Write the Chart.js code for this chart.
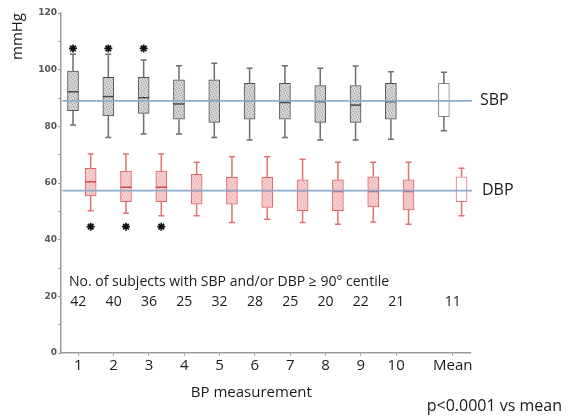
<!DOCTYPE html>
<html>
<head>
<meta charset="utf-8">
<script src="https://cdn.jsdelivr.net/npm/chart.js@4.4.1/dist/chart.umd.min.js"></script>
<style>
  html, body { margin: 0; padding: 0; background: #ffffff; }
  #wrap { width: 568px; height: 417px; position: relative; }
</style>
</head>
<body>
<div id="wrap"><canvas id="c" width="568" height="417"></canvas></div>
<script>
// ---------- data ----------
const categories = ['1','2','3','4','5','6','7','8','9','10','Mean'];

const sbpMin    = [80.5, 76.1, 77.3, 77.3, 76.1, 75.2, 76.1, 75.2, 75.2, 75.4, 78.4];
const sbpQ1     = [85.5, 83.7, 84.6, 82.5, 81.4, 82.5, 82.5, 81.4, 81.4, 82.5, 83.4];
const sbpMedian = [92.2, 90.5, 90.1, 87.9, 89.1, 89.0, 88.4, 88.7, 87.5, 88.7, null];
const sbpQ3     = [99.5, 97.3, 97.3, 96.4, 96.4, 95.2, 95.2, 94.4, 94.4, 95.2, 95.2];
const sbpMax    = [105.4, 105.4, 103.4, 101.4, 102.3, 100.5, 101.4, 100.5, 101.3, 99.3, 99.1];

const dbpMin    = [50.2, 49.3, 48.4, 48.4, 46.1, 47.2, 46.1, 45.4, 46.2, 45.4, 48.4];
const dbpQ1     = [55.4, 53.4, 53.4, 52.5, 52.5, 51.4, 50.2, 50.2, 51.6, 50.5, 53.4];
const dbpMedian = [60.4, 58.5, 58.5, 57.3, 57.3, 57.3, 57.3, 57.0, 57.0, 57.0, null];
const dbpQ3     = [65.2, 64.2, 64.2, 63.1, 62.0, 62.0, 61.1, 61.1, 62.2, 61.1, 62.2];
const dbpMax    = [70.2, 70.2, 70.2, 67.3, 69.3, 69.3, 68.4, 67.3, 67.3, 67.3, 65.2];

const sbpReference = 89.0;   // SBP mean line
const dbpReference = 57.3;   // DBP mean line

const significantIdx = [0, 1, 2];   // marked with * (p<0.0001 vs mean)
const sbpStarLevel = 107.5;
const dbpStarLevel = 44.6;

const subjectCounts = [42, 40, 36, 25, 32, 28, 25, 20, 22, 21, 11];
const countsTitle = 'No. of subjects with SBP and/or DBP \u2265 90\u00b0 centile';

const yTicks = { min: 0, max: 120, step: 10, labelEvery: 20 };

// ---------- helpers ----------
const MEAN_IDX = categories.length - 1;
function sbpX(i) { return i === MEAN_IDX ? i + 1.5 : i + 1; }
function dbpX(i) { return sbpX(i) + 0.5; }
function labelX(i) { return i === MEAN_IDX ? sbpX(i) + 0.25 : sbpX(i) + 0.15; }

function makePattern(bg, dot) {
  const n = 5;
  const c = document.createElement('canvas');
  c.width = n; c.height = n;
  const g = c.getContext('2d');
  g.fillStyle = bg; g.fillRect(0, 0, n, n);
  g.fillStyle = dot;
  [[0,0],[3,1],[1,2],[4,3],[2,4]].forEach(p => g.fillRect(p[0], p[1], 1, 1));
  return g.createPattern(c, 'repeat');
}
const sbpFill = makePattern('#d4d4d4', '#a2a2a2');
const dbpFill = makePattern('#f7cdcd', '#eaaaaa');

const styles = {
  sbp: { fill: sbpFill, border: '#505050', whisker: '#6e6e6e', median: '#4a4a4a', meanBorder: '#8a8a8a' },
  dbp: { fill: dbpFill, border: '#de6464', whisker: '#e27272', median: '#d24a4a', meanBorder: '#e07777' }
};

function boxData(xf, q1, q3) {
  return categories.map((c, i) => ({ x: xf(i), y: [q1[i], q3[i]] }));
}

// ---------- whiskers & medians plugin (uses chart scales) ----------
const boxPlugin = {
  id: 'boxWhiskers',
  afterDatasetDraw(chart, args) {
    const ds = chart.data.datasets[args.index];
    if (!ds.boxInfo) return;
    const { mins, maxs, medians, xf, st } = ds.boxInfo;
    const xs = chart.scales.x, ys = chart.scales.y;
    const ctx = chart.ctx;
    ctx.save();
    categories.forEach((c, i) => {
      const px = xs.getPixelForValue(xf(i));
      const yMin = ys.getPixelForValue(mins[i]);
      const yMax = ys.getPixelForValue(maxs[i]);
      const yQ1 = ys.getPixelForValue(ds.data[i].y[0]);
      const yQ3 = ys.getPixelForValue(ds.data[i].y[1]);
      ctx.strokeStyle = st.whisker;
      ctx.lineWidth = 1.5;
      ctx.beginPath();
      ctx.moveTo(px, yQ3); ctx.lineTo(px, yMax);
      ctx.moveTo(px, yQ1); ctx.lineTo(px, yMin);
      ctx.moveTo(px - 3, yMax); ctx.lineTo(px + 3, yMax);
      ctx.moveTo(px - 3, yMin); ctx.lineTo(px + 3, yMin);
      ctx.stroke();
      if (medians[i] !== null) {
        const yMed = ys.getPixelForValue(medians[i]);
        ctx.strokeStyle = st.median;
        ctx.lineWidth = 1.5;
        ctx.beginPath();
        ctx.moveTo(px - 5.5, yMed); ctx.lineTo(px + 5.5, yMed);
        ctx.stroke();
      }
    });
    ctx.restore();
  }
};

// ---------- text annotations plugin ----------
const textPlugin = {
  id: 'annotText',
  afterDraw(chart) {
    const xs = chart.scales.x, ys = chart.scales.y;
    const ctx = chart.ctx;
    const area = chart.chartArea;
    ctx.save();
    ctx.fillStyle = '#1a1a1a';
    ctx.textBaseline = 'middle';

    ctx.font = '14px "Open Sans"';
    ctx.textAlign = 'left';
    ctx.fillText(countsTitle, area.left + 8, ys.getPixelForValue(25));

    ctx.textAlign = 'center';
    subjectCounts.forEach((n, i) => {
      ctx.fillText(String(n), xs.getPixelForValue(labelX(i)), ys.getPixelForValue(18));
    });

    ctx.font = '16px "Open Sans"';
    ctx.textAlign = 'left';
    ctx.fillText('SBP', area.right + 10, ys.getPixelForValue(sbpReference));
    ctx.fillText('DBP', area.right + 12, ys.getPixelForValue(dbpReference));

    ctx.font = '15px "Open Sans"';
    ctx.textAlign = 'center';
    ctx.fillText('BP measurement', xs.getPixelForValue(6.05), area.bottom + 40);

    ctx.font = '16px "Open Sans"';
    ctx.textAlign = 'right';
    ctx.fillText('p<0.0001 vs mean', chart.width - 6, chart.height - 11);
    ctx.restore();
  }
};

Chart.defaults.font.family = '"Open Sans", "DejaVu Sans", sans-serif';
Chart.defaults.color = '#1a1a1a';

new Chart(document.getElementById('c'), {
  type: 'bar',
  data: {
    datasets: [
      {
        type: 'line', order: 0, label: 'SBP mean',
        data: [{ x: 0.7, y: sbpReference }, { x: 12.3, y: sbpReference }],
        borderColor: '#8eabd0', borderWidth: 1.6, pointRadius: 0, clip: false
      },
      {
        type: 'line', order: 0, label: 'DBP mean',
        data: [{ x: 0.7, y: dbpReference }, { x: 12.3, y: dbpReference }],
        borderColor: '#8eabd0', borderWidth: 1.6, pointRadius: 0, clip: false
      },
      {
        type: 'scatter', order: 0, label: 'SBP *',
        data: significantIdx.map(i => ({ x: sbpX(i), y: sbpStarLevel })),
        pointStyle: 'star', pointRadius: 4, borderWidth: 1.7, borderColor: '#111111'
      },
      {
        type: 'scatter', order: 0, label: 'DBP *',
        data: significantIdx.map(i => ({ x: dbpX(i), y: dbpStarLevel })),
        pointStyle: 'star', pointRadius: 4, borderWidth: 1.7, borderColor: '#111111'
      },
      {
        type: 'bar', order: 2, label: 'SBP',
        data: boxData(sbpX, sbpQ1, sbpQ3),
        barThickness: 11, grouped: false,
        backgroundColor: ctx => ctx.dataIndex === MEAN_IDX ? '#ffffff' : styles.sbp.fill,
        borderColor: ctx => ctx.dataIndex === MEAN_IDX ? styles.sbp.meanBorder : styles.sbp.border,
        borderWidth: 1, borderSkipped: false,
        boxInfo: { mins: sbpMin, maxs: sbpMax, medians: sbpMedian, xf: sbpX, st: styles.sbp }
      },
      {
        type: 'bar', order: 2, label: 'DBP',
        data: boxData(dbpX, dbpQ1, dbpQ3),
        barThickness: 11, grouped: false,
        backgroundColor: ctx => ctx.dataIndex === MEAN_IDX ? '#ffffff' : styles.dbp.fill,
        borderColor: ctx => ctx.dataIndex === MEAN_IDX ? styles.dbp.meanBorder : styles.dbp.border,
        borderWidth: 1, borderSkipped: false,
        boxInfo: { mins: dbpMin, maxs: dbpMax, medians: dbpMedian, xf: dbpX, st: styles.dbp }
      }
    ]
  },
  options: {
    responsive: false,
    animation: false,
    events: [],
    layout: { padding: { top: 13, right: 98, bottom: 0, left: 0 } },
    plugins: { legend: { display: false }, tooltip: { enabled: false } },
    scales: {
      x: {
        type: 'linear', min: 0.66, max: 12.24, offset: false,
        grid: { offset: false, drawOnChartArea: false, tickLength: 3, color: '#a0a0a0' },
        border: { color: '#9a9a9a', width: 1.5 },
        afterBuildTicks(scale) { scale.ticks = categories.map((c, i) => ({ value: labelX(i) })); },
        ticks: {
          autoSkip: false, maxRotation: 0, padding: 1,
          font: { size: 15 }, color: '#1a1a1a',
          callback: (v, idx) => categories[idx]
        },
        afterFit(scale) { scale.height = 64; }
      },
      y: {
        type: 'linear', min: yTicks.min, max: yTicks.max,
        grid: { drawOnChartArea: false, tickLength: 3, color: '#a0a0a0' },
        border: { color: '#9a9a9a', width: 1.5 },
        ticks: {
          stepSize: yTicks.step, padding: 1,
          font: { family: '"DejaVu Sans"', size: 9, weight: 'bold' }, color: '#555555',
          callback: v => (v % yTicks.labelEvery === 0 ? String(v) : '')
        },
        title: {
          display: true, text: 'mmHg', align: 'end',
          font: { size: 15 }, color: '#1a1a1a', padding: { top: 9, bottom: 0 }
        },
        afterFit(scale) { scale.width = 61; }
      }
    }
  },
  plugins: [boxPlugin, textPlugin]
});
</script>
</body>
</html>
